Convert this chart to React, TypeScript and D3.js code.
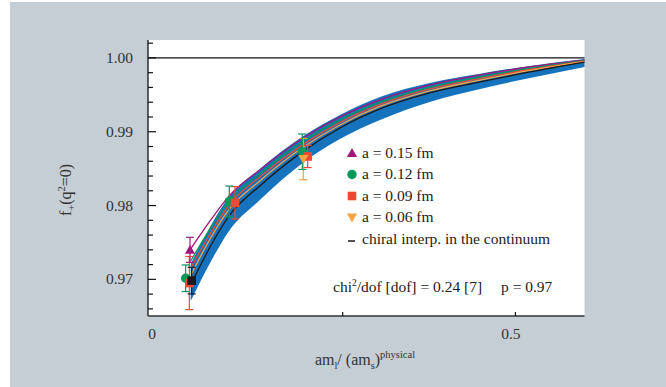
import React from "react";
import * as d3 from "d3";

const W = 666;
const H = 387;

// curve sample abscissae (am_l/(am_s)^phys)
const curveX = [0.03, 0.058, 0.085, 0.13, 0.1925, 0.246, 0.304, 0.376, 0.449, 0.521, 0.6];
const curveMagenta = [0.97412, 0.97791, 0.98125, 0.98482, 0.98916, 0.99201, 0.99431, 0.99634, 0.9977, 0.99878, 0.9997];
const curveGreen = [0.97249, 0.97683, 0.98057, 0.98428, 0.9887, 0.9916, 0.99397, 0.996, 0.99743, 0.99858, 0.99963];
const curveRed = [0.97154, 0.97615, 0.98003, 0.98388, 0.98829, 0.99126, 0.9937, 0.9958, 0.99722, 0.99844, 0.99957];
const curveOrange = [0.97053, 0.97547, 0.97942, 0.98333, 0.98789, 0.99092, 0.99343, 0.99553, 0.99699, 0.99831, 0.9995];
const curveBlack = [0.96924, 0.97439, 0.97854, 0.98266, 0.98734, 0.99051, 0.99309, 0.99526, 0.99675, 0.9981, 0.99943];
const bandUpper = [0.97209, 0.9771, 0.98111, 0.98496, 0.98938, 0.99228, 0.99472, 0.99661, 0.99787, 0.99892, 0.99986];
const bandLower = [0.96707, 0.97222, 0.9765, 0.98076, 0.98581, 0.98902, 0.9916, 0.99404, 0.9958, 0.99729, 0.99878];

// data points: x, f+(0), error
const pts015 = [{ x: 0.029, y: 0.974, e: 0.0017 }];
const pts012 = [
  { x: 0.0227, y: 0.97015, e: 0.0018 },
  { x: 0.0859, y: 0.98054, e: 0.0021 },
  { x: 0.1915, y: 0.98729, e: 0.0024 },
];
const pts009 = [
  { x: 0.028, y: 0.9695, e: 0.0036 },
  { x: 0.0941, y: 0.98037, e: 0.0022 },
  { x: 0.1993, y: 0.98665, e: 0.0015 },
];
const pts006 = [{ x: 0.193, y: 0.9863, e: 0.0028 }];
const ptsCont = [{ x: 0.0314, y: 0.96983, e: 0.0018 }];

const yMajor = [0.97, 0.98, 0.99, 1.0];
const yMajorLabels = ["0.97", "0.98", "0.99", "1.00"];
const yMinor = [0.966, 0.968, 0.972, 0.974, 0.976, 0.978, 0.982, 0.984, 0.986, 0.988, 0.992, 0.994, 0.996, 0.998, 1.002];
const xTicks = [0.25, 0.5];
const xTickLabels = ["", "0.5"];

const legendLabels = ["a = 0.15 fm", "a = 0.12 fm", "a = 0.09 fm", "a = 0.06 fm", "chiral interp. in the continuum"];

const C_MAG = "#a3167a";
const C_GRN = "#00995a";
const C_RED = "#ec4a33";
const C_ORA = "#f7a446";
const C_BLK = "#1a1a1a";
const C_BAND = "#1572bd";
const BG = "#c5cdd5";

export default function App() {
  const left = 148, right = 584.5, top = 40, bottom = 316;
  const x = d3.scaleLinear().domain([-0.0318, 0.6]).range([left, right]);
  const y = d3.scaleLinear().domain([0.965035, 1.00243]).range([bottom, top]);

  const line = (vals: number[]) =>
    d3.line<number>().x((_, i) => x(curveX[i])).y((v) => y(v)).curve(d3.curveMonotoneX)(vals) || "";
  const band =
    d3
      .area<number>()
      .x((_, i) => x(curveX[i]))
      .y0((_, i) => y(bandLower[i]))
      .y1((v) => y(v))
      .curve(d3.curveMonotoneX)(bandUpper) || "";

  const font = "'Liberation Serif', 'Times New Roman', serif";
  const fs = 15.5;
  const sym = (type: d3.SymbolType, size: number) => d3.symbol().type(type).size(size)() || "";

  const errBars = (pts: { x: number; y: number; e: number }[], color: string) =>
    pts.map((p, i) => (
      <g key={i} stroke={color} strokeWidth={1.2}>
        <line x1={x(p.x)} x2={x(p.x)} y1={y(p.y - p.e)} y2={y(p.y + p.e)} />
        <line x1={x(p.x) - 4} x2={x(p.x) + 4} y1={y(p.y - p.e)} y2={y(p.y - p.e)} />
        <line x1={x(p.x) - 4} x2={x(p.x) + 4} y1={y(p.y + p.e)} y2={y(p.y + p.e)} />
      </g>
    ));

  const marker = (kind: string, color: string, cx: number, cy: number, key?: any) => {
    if (kind === "tri") return <path key={key} d={sym(d3.symbolTriangle, 45)} transform={`translate(${cx},${cy + 1})`} fill={color} />;
    if (kind === "circ") return <circle key={key} cx={cx} cy={cy} r={4.7} fill={color} />;
    if (kind === "sq") return <rect key={key} x={cx - 4.3} y={cy - 4.3} width={8.6} height={8.6} fill={color} />;
    if (kind === "dtri") return <path key={key} d={sym(d3.symbolTriangle, 45)} transform={`translate(${cx},${cy - 1}) rotate(180)`} fill={color} />;
    return null;
  };

  const legendKinds = ["tri", "circ", "sq", "dtri", "dash"];
  const legendColors = [C_MAG, C_GRN, C_RED, C_ORA, C_BLK];

  return (
    <svg width={W} height={H} style={{ position: "absolute", left: 0, top: 0 }} fontFamily={font}>
      <rect x={0} y={0} width={W} height={H} fill="#ffffff" />
      <rect x={10} y={2} width={W - 10} height={H - 2} fill={BG} />
      <rect x={left} y={top} width={right - left} height={bottom - top} fill="#ffffff" />

      {/* 1.00 reference line */}
      <line x1={left} x2={right} y1={y(1.0)} y2={y(1.0)} stroke="#111" strokeWidth={1.2} />

      {/* band and curves */}
      <path d={band} fill={C_BAND} />
      <path d={line(curveMagenta)} fill="none" stroke={C_MAG} strokeWidth={1.3} />
      <path d={line(curveGreen)} fill="none" stroke={C_GRN} strokeWidth={1.3} />
      <path d={line(curveRed)} fill="none" stroke={C_RED} strokeWidth={1.3} />
      <path d={line(curveOrange)} fill="none" stroke={C_ORA} strokeWidth={1.3} />
      <path d={line(curveBlack)} fill="none" stroke={C_BLK} strokeWidth={1.3} />

      {/* error bars and points */}
      {errBars(pts006, C_ORA)}
      {errBars(pts009, C_RED)}
      {errBars(pts012, C_GRN)}
      {errBars(pts015, C_MAG)}
      {errBars(ptsCont, C_BLK)}
      {pts012.map((p, i) => marker("circ", C_GRN, x(p.x), y(p.y), "g" + i))}
      {pts015.map((p, i) => marker("tri", C_MAG, x(p.x), y(p.y), "m" + i))}
      {pts009.map((p, i) => marker("sq", C_RED, x(p.x), y(p.y), "r" + i))}
      {pts006.map((p, i) => marker("dtri", C_ORA, x(p.x), y(p.y), "o" + i))}
      {ptsCont.map((p, i) => marker("sq", C_BLK, x(p.x), y(p.y), "k" + i))}

      {/* axes */}
      <line x1={left} x2={left} y1={top} y2={bottom} stroke="#111" strokeWidth={1.3} />
      <line x1={left} x2={right} y1={bottom} y2={bottom} stroke="#333" strokeWidth={1.5} />
      {yMajor.map((v, i) => (
        <g key={"ym" + i}>
          <line x1={left} x2={left + 8} y1={y(v)} y2={y(v)} stroke="#111" strokeWidth={1.2} />
          <text x={133} y={y(v) + 5} textAnchor="end" fontSize={fs} fill="#333">
            {yMajorLabels[i]}
          </text>
        </g>
      ))}
      {yMinor.map((v, i) => (
        <line key={"yn" + i} x1={left} x2={left + 5} y1={y(v)} y2={y(v)} stroke="#111" strokeWidth={1.2} />
      ))}
      {xTicks.map((v, i) => (
        <g key={"xt" + i}>
          <line x1={x(v)} x2={x(v)} y1={bottom} y2={bottom - 4} stroke="#111" strokeWidth={1.2} />
          <text x={x(v) - 4.5} y={339} textAnchor="middle" fontSize={fs} fill="#333">
            {xTickLabels[i]}
          </text>
        </g>
      ))}
      <text x={x.range()[0] + 4} y={339} textAnchor="middle" fontSize={fs} fill="#333">
        0
      </text>

      {/* axis titles */}
      <text x={365} y={365} textAnchor="middle" fontSize={16} fill="#333">
        am<tspan fontSize={10.5} dy={4}>l</tspan>
        <tspan dy={-4}>/ (am</tspan>
        <tspan fontSize={10.5} dy={4}>s</tspan>
        <tspan dy={-4}>)</tspan>
        <tspan fontSize={10.5} dy={-7}>physical</tspan>
      </text>
      <text transform="translate(71,190) rotate(-90)" textAnchor="middle" fontSize={16} fill="#333">
        f<tspan fontSize={10.5} dy={4}>+</tspan>
        <tspan dy={-4}>(q</tspan>
        <tspan fontSize={10.5} dy={-6}>2</tspan>
        <tspan dy={6}>=0)</tspan>
      </text>

      {/* legend */}
      {legendLabels.map((lab, i) => {
        const ly = 153 + i * 21.5;
        return (
          <g key={"lg" + i}>
            {legendKinds[i] === "dash" ? (
              <line x1={348} x2={355} y1={ly + 2} y2={ly + 2} stroke={C_BLK} strokeWidth={1.5} />
            ) : (
              marker(legendKinds[i], legendColors[i], 352, ly, "lm" + i)
            )}
            <text x={362} y={ly + 4.5} fontSize={fs} fill="#222">
              {lab}
            </text>
          </g>
        );
      })}
      <text x={333} y={291.5} fontSize={fs} fill="#222">
        chi<tspan fontSize={9.5} dy={-6}>2</tspan>
        <tspan dy={6}>/dof [dof] = 0.24 [7]</tspan>
        <tspan x={501}>p = 0.97</tspan>
      </text>
    </svg>
  );
}
